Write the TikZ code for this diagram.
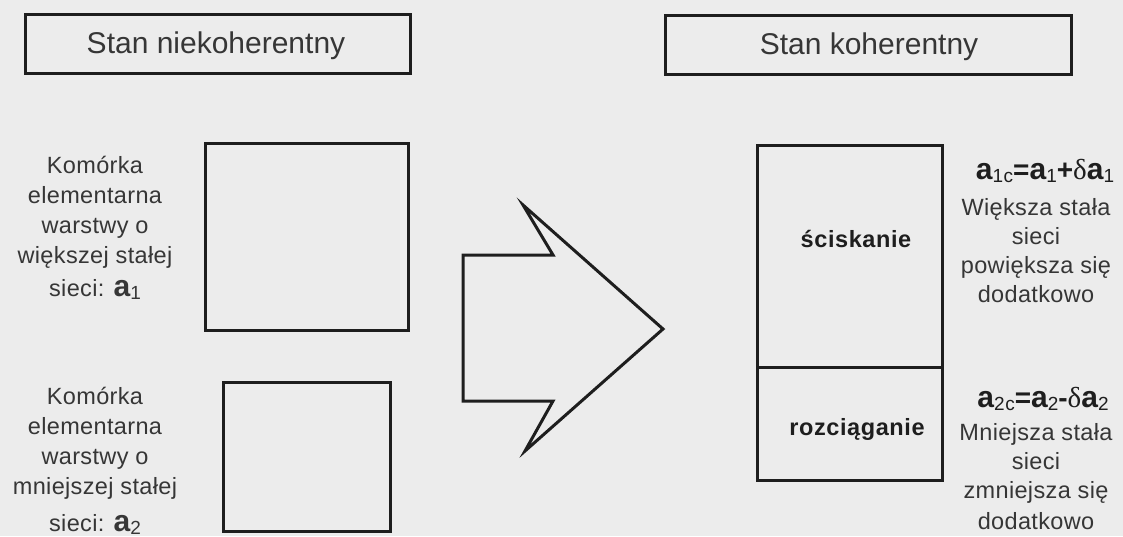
\documentclass[tikz,border=0pt]{standalone}
\usepackage{fontspec}
\setmainfont{Liberation Sans}
\newfontfamily\bodyfont[LetterSpace=1.5]{Liberation Sans}
\newfontfamily\strainfont[LetterSpace=2.5]{Liberation Sans}
\newfontfamily\lawfont[LetterSpace=3]{Liberation Sans}
\newfontfamily\headfont{Liberation Sans}
\newfontfamily\greekfont{Liberation Serif}

\definecolor{paper}{HTML}{ECECEC}
\definecolor{ink}{HTML}{1E1E1E}
\definecolor{txt}{HTML}{363636}

% lattice constant symbol, its index, operators and delta
\newcommand{\ltc}{{\fontsize{30}{30}\selectfont\bfseries a}}
\newcommand{\ltidx}[1]{\raisebox{-3pt}{\fontsize{19}{19}\selectfont #1}}
\newcommand{\ltop}[1]{{\fontsize{28}{28}\selectfont\bfseries #1}}
\newcommand{\ltdelta}{{\greekfont\fontsize{29}{29}\selectfont δ}}

\begin{document}
\begin{tikzpicture}[x=1pt,y=-1pt,
  frame/.style={draw=ink, line width=3pt, inner sep=0pt},
  head/.style={text=txt, font=\headfont\fontsize{30}{34}\selectfont, inner sep=0pt, anchor=base},
  body/.style={text=txt, font=\bodyfont\fontsize{23.5}{30}\selectfont, align=center, inner sep=0pt, anchor=north},
  rbody/.style={body, font=\bodyfont\fontsize{23.5}{29}\selectfont},
  law/.style={text=ink, font=\lawfont, inner sep=0pt, anchor=base},
  strain/.style={text=ink, font=\strainfont\fontsize{23.5}{26}\selectfont\bfseries, inner sep=0pt, anchor=base}]

\fill[paper] (0,0) rectangle (1123,536);
\useasboundingbox (0,0) rectangle (1123,536);

% headings
\node[frame, minimum width=385pt, minimum height=59pt] (headL) at (217.5,43.5) {};
\node[head] (headLtxt) at (216,53) {Stan niekoherentny};
\node[frame, minimum width=406pt, minimum height=59pt] (headR) at (868,44.5) {};
\node[head] (headRtxt) at (869,54) {Stan koherentny};

% separate layers: unit cells
\node[frame, minimum width=203pt, minimum height=187pt] (cellA) at (306.5,236.5) {};
\node[frame, minimum width=167pt, minimum height=149pt] (cellB) at (306.5,456.5) {};
\node[body] (descA) at (95,155.6) {Komórka\\elementarna\\warstwy o\\większej stałej\\[3pt]sieci: \ltc\ltidx{1}};
\node[body] (descB) at (95,386.6) {Komórka\\elementarna\\warstwy o\\mniejszej stałej\\[7pt]sieci: \ltc\ltidx{2}};

% transition arrow
\draw[ink, line width=3pt, line join=miter]
  (523,205) -- (553,255) -- (463,255) -- (463,401) -- (553,401)
  -- (525,451) -- (663,329) -- cycle;

% coherent stack
\node[frame, minimum width=185pt, minimum height=222pt] (layerA) at (849.5,256) {};
\node[frame, minimum width=185pt, minimum height=113pt] (layerB) at (849.5,423.5) {};
\node[strain] (compr) at (856,247) {ściskanie};
\node[strain] (tens) at (857,435) {rozciąganie};

% resulting lattice constants
\node[law] (lawA) at (1045,179) {\ltc\ltidx{1c}\ltop{=}\ltc\ltidx{1}\ltop{+}\ltdelta\ltc\ltidx{1}};
\node[rbody] (infoA) at (1036,197.9) {Większa stała\\sieci\\powiększa się\\dodatkowo};
\node[law] (lawB) at (1043,407) {\ltc\ltidx{2c}\ltop{=}\ltc\ltidx{2}\ltop{-}\ltdelta\ltc\ltidx{2}};
\node[rbody] (infoB) at (1036,422.9) {Mniejsza stała\\sieci\\zmniejsza się\\[2pt]dodatkowo};
\end{tikzpicture}
\end{document}
